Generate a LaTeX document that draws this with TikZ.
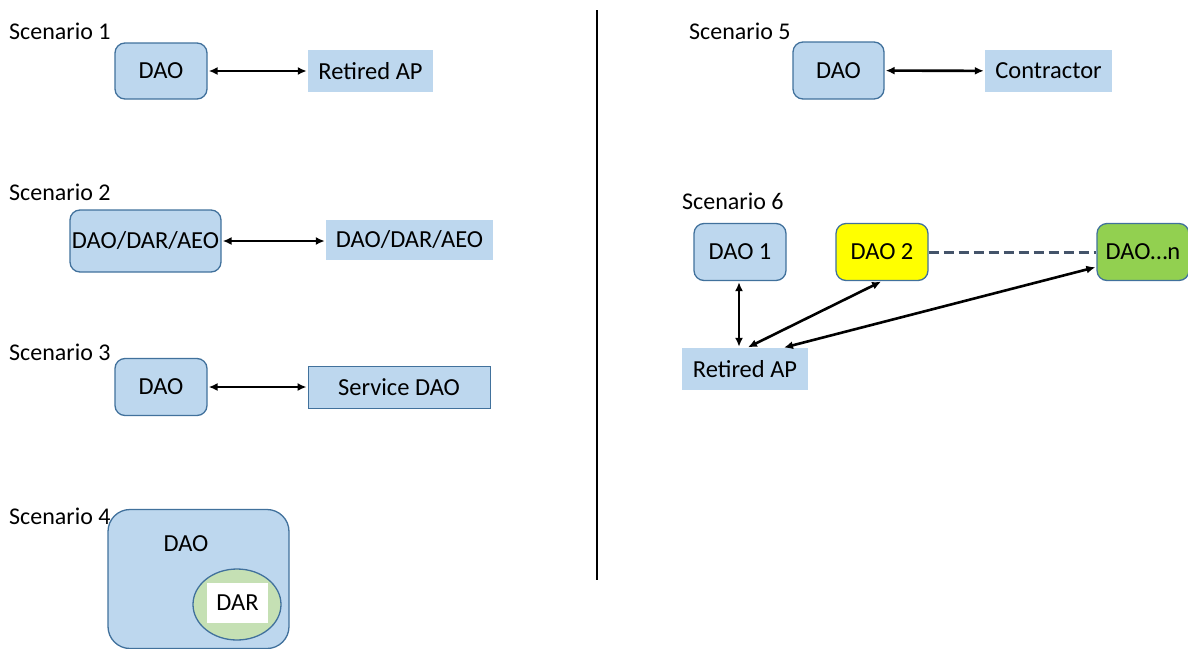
\documentclass[tikz,border=0pt]{standalone}
\usepackage{fontspec}
\setmainfont{Carlito}
\usetikzlibrary{arrows.meta,calc,shapes.geometric}
\definecolor{boxblue}{HTML}{BDD7EE}
\definecolor{edgeblue}{HTML}{41719C}
\definecolor{daoyellow}{HTML}{FFFF00}
\definecolor{daogreen}{HTML}{92D050}
\definecolor{ellgreen}{HTML}{C5E0B4}
\definecolor{dashgray}{HTML}{44546A}
\tikzset{
  lbl/.style={anchor=west, inner sep=0pt, font=\fontsize{24}{28}\selectfont},
  rbox/.style={draw=edgeblue, line width=1.3pt, fill=boxblue, rounded corners=10pt, inner sep=0pt, font=\fontsize{24.5}{28}\selectfont},
  pbox/.style={fill=boxblue, inner sep=0pt, font=\fontsize{24.5}{28}\selectfont},
  link/.style={{Latex[length=9pt,width=8pt]}-{Latex[length=9pt,width=8pt]}, line width=2.6pt, black, shorten <=1pt, shorten >=1pt},
}
\begin{document}
\begin{tikzpicture}[x=1pt,y=-1pt]
\useasboundingbox (0,0) rectangle (1188,648);
% Scenario 1
\node[lbl] (l1) at (9,31) {Scenario 1};
\node[rbox, minimum width=92pt, minimum height=56pt] (s1dao) at (161,71) {DAO};
\node[pbox, minimum width=125pt, minimum height=42pt] (s1ret) at (370.5,71) {Retired AP};
\draw[link] (s1dao) -- (s1ret);
% Scenario 2
\node[lbl] (l2) at (9,192) {Scenario 2};
\node[rbox, minimum width=151pt, minimum height=62pt] (s2a) at (145.5,241) {DAO/DAR/AEO};
\node[pbox, minimum width=167pt, minimum height=40pt] (s2b) at (409.5,240) {DAO/DAR/AEO};
\draw[link] (s2a.east) -- (s2a.east -| s2b.west);
% Scenario 3
\node[lbl] (l3) at (9,352) {Scenario 3};
\node[rbox, minimum width=92pt, minimum height=57pt] (s3dao) at (161,387) {DAO};
\node[pbox, draw=edgeblue, line width=0.9pt, minimum width=182pt, minimum height=42pt] (s3srv) at (399,387) {Service DAO};
\draw[link] (s3dao) -- (s3srv);
% Scenario 4
\node[lbl] (l4) at (9,516) {Scenario 4};
\node[rbox, rounded corners=22pt, minimum width=181pt, minimum height=139pt] (s4dao) at (198.5,579) {};
\node[inner sep=0pt, font=\fontsize{24.5}{28}\selectfont] (s4txt) at (186,544) {DAO};
\node[ellipse, draw=edgeblue, line width=1.3pt, fill=ellgreen, minimum width=88pt, minimum height=71pt, inner sep=0pt] (s4ell) at (237,604.5) {};
\node[fill=white, minimum width=61pt, minimum height=40pt, inner sep=0pt, font=\fontsize{24.5}{28}\selectfont] (s4dar) at (237.5,603) {DAR};
% divider
\coordinate (vtop) at (597,10);
\coordinate (vbot) at (597,580);
\draw[line width=2.6pt] (vtop) -- (vbot);
% Scenario 5
\node[lbl] (l5) at (689,31) {Scenario 5};
\node[rbox, minimum width=91pt, minimum height=57pt] (s5dao) at (838.5,70.5) {DAO};
\node[pbox, minimum width=127pt, minimum height=42pt] (s5con) at (1048.5,71) {Contractor};
\draw[link] (s5dao) -- (s5con);
% Scenario 6
\node[lbl] (l6) at (682,201) {Scenario 6};
\node[rbox, minimum width=92pt, minimum height=57pt] (d1) at (740,252) {DAO 1};
\node[rbox, fill=daoyellow, minimum width=92pt, minimum height=57pt] (d2) at (882,252) {DAO 2};
\node[rbox, fill=daogreen, minimum width=92pt, minimum height=57pt] (dn) at (1143,252) {DAO\ldots n};
\node[pbox, minimum width=126pt, minimum height=42pt] (r6) at (745,369) {Retired AP};
\draw[dashgray, line width=3pt, dash pattern=on 10pt off 5pt] (d2.east) -- (dn.west);
\draw[link] ([xshift=-1pt]d1.south) -- ([xshift=-6pt]r6.north);
\draw[link] (d2.south) -- ([xshift=2pt]r6.north);
\draw[link] ([yshift=-15pt]dn.west) -- ([xshift=38pt]r6.north);
\end{tikzpicture}
\end{document}
